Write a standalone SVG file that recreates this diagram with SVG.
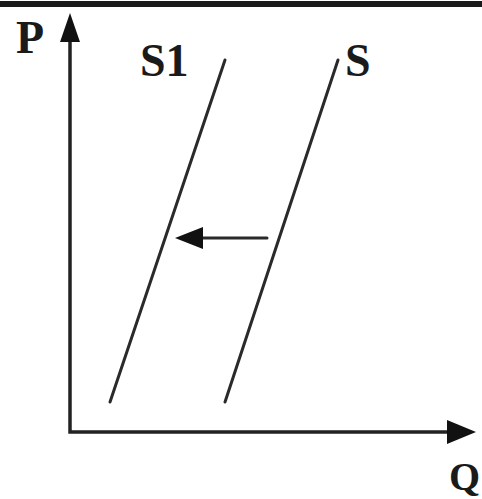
<svg xmlns="http://www.w3.org/2000/svg" width="482" height="499" viewBox="0 0 482 499">
<style>
.ln{stroke:#2a2a2a;stroke-width:3;fill:none;stroke-linecap:round}
.ax{stroke:#222;stroke-width:3.5;fill:none}
.lbl{font-family:"Liberation Serif","DejaVu Serif",serif;font-weight:bold;fill:#1a1a1a}
.hd{fill:#111}
</style>
<rect x="0" y="0" width="482" height="499" fill="#fff"/>
<rect x="0" y="1" width="482" height="6" fill="#1a1a1a"/>
<g id="axes">
<path class="ax" d="M70,40 L70,432 L452,432"/>
<polygon class="hd" points="70,13 80,42 60,42"/>
<polygon class="hd" points="476,432 447,420 447,444"/>
</g>
<g id="S1">
<line class="ln" x1="110" y1="402" x2="225" y2="60"/>
<text class="lbl" x="140" y="76" font-size="46">S1</text>
</g>
<g id="S">
<line class="ln" x1="225" y1="402" x2="338" y2="60"/>
<text class="lbl" x="345" y="76" font-size="46">S</text>
</g>
<g id="labels">
<text class="lbl" x="16" y="53" font-size="46">P</text>
<text class="lbl" x="449" y="490" font-size="40">Q</text>
</g>
<g id="connectors">
<line class="ln" x1="200" y1="238" x2="267" y2="238"/>
<polygon class="hd" points="175,238 203,227 203,249"/>
</g>
</svg>
